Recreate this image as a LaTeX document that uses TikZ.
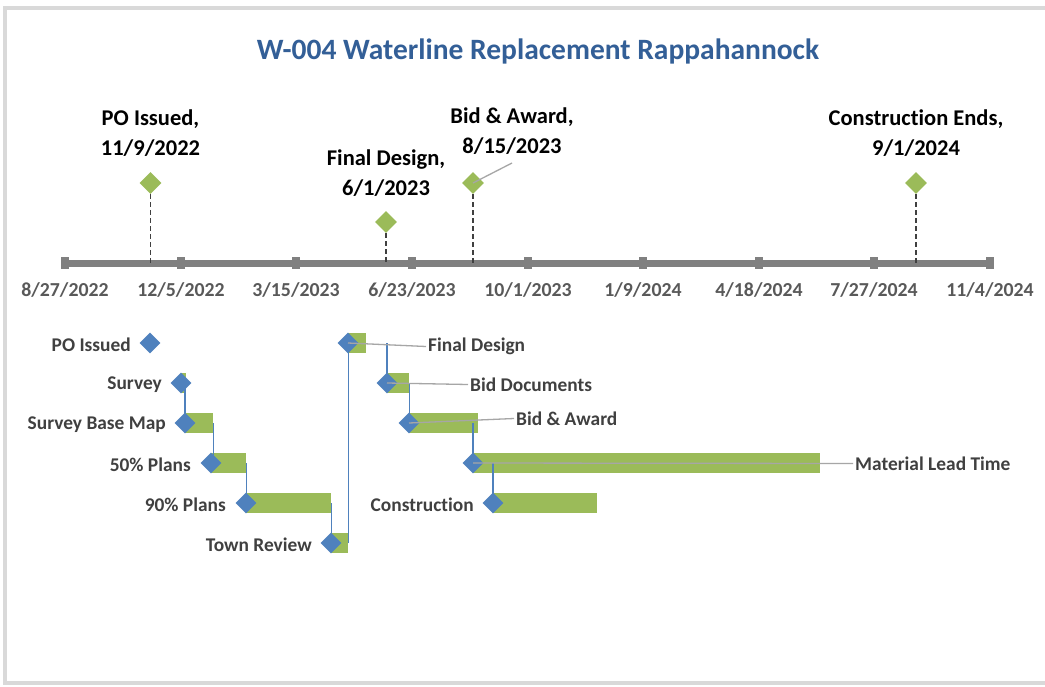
\documentclass[tikz,border=0pt]{standalone}
\usepackage{fontspec}
\setmainfont[Ligatures={NoCommon}]{Carlito}
\usetikzlibrary{shapes.geometric}
\definecolor{barg}{HTML}{9BBB59}
\definecolor{dblue}{HTML}{4F81BD}
\definecolor{axisg}{HTML}{808080}
\definecolor{frameg}{HTML}{D9D9D9}
\definecolor{lead}{HTML}{A6A6A6}
\definecolor{txtg}{HTML}{404040}
\definecolor{dateg}{HTML}{595959}
\definecolor{titleb}{HTML}{335F97}
\begin{document}
\begin{tikzpicture}[x=1pt,y=-1pt,
  bar/.style={fill=barg, draw=none, minimum height=20pt, inner sep=0pt, anchor=west},
  task/.style={diamond, fill=dblue, draw=none, inner sep=0pt, minimum width=21pt, minimum height=21pt},
  mile/.style={diamond, fill=barg, draw=none, inner sep=0pt, minimum width=22pt, minimum height=22pt},
  tick/.style={fill=axisg, draw=none, inner sep=0pt, minimum width=8pt, minimum height=12pt},
  conn/.style={draw=dblue, line width=1.3pt},
  leader/.style={draw=lead, line width=1.3pt},
  drop/.style={draw=txtg, line width=1.5pt, dash pattern=on 5pt off 3pt},
  tlabel/.style={text=txtg, font=\fontsize{19.4}{22}\selectfont\bfseries, inner sep=2pt, yshift=-1.5pt},
  dlabel/.style={text=dateg, font=\fontsize{19.8}{22}\selectfont\bfseries, inner sep=0pt},
  mlabel/.style={text=black, font=\fontsize{22.5}{30}\selectfont\bfseries, align=center, inner sep=0pt}
]
\useasboundingbox (0,0) rectangle (1045,686);
\fill[white] (0,0) rectangle (1045,686);
\draw[frameg, line width=4pt] (5,8) rectangle (1050,683);

% title
\node[text=titleb, font=\fontsize{29.5}{34}\selectfont\bfseries] (title) at (538,51) {W-004 Waterline Replacement Rappahannock};

% axis
\coordinate (axL) at (65,263);
\coordinate (axR) at (990,263);
\draw[axisg, line width=7pt] (axL) -- (axR);
\foreach \x/\d [count=\i] in {65/8\slash 27\slash 2022,181/12\slash 5\slash 2022,296/3\slash 15\slash 2023,412/6\slash 23\slash 2023,528/10\slash 1\slash 2023,643/1\slash 9\slash 2024,759/4\slash 18\slash 2024,874/7\slash 27\slash 2024,990/11\slash 4\slash 2024}{
  \node[tick] (t\i) at (\x,263) {};
  \node[dlabel] (dl\i) at (\x,290) {\d};
}

% milestones
\node[mile] (m1) at (150.5,183) {};
\node[mile] (m2) at (386,222) {};
\node[mile] (m3) at (473,183) {};
\node[mile] (m4) at (916,183) {};
\draw[drop] (m1.south) -- (m1.south |- t1.center);
\draw[drop] (m2.south) -- (m2.south |- t1.center);
\draw[drop] (m3.south) -- (m3.south |- t1.center);
\draw[drop] (m4.south) -- (m4.south |- t1.center);
\node[mlabel] (ml1) at (150.5,133) {PO Issued,\\11/9/2022};
\node[mlabel] (ml2) at (386,173) {Final Design,\\6/1/2023};
\node[mlabel] (ml3) at (512,131) {Bid \& Award,\\8/15/2023};
\node[mlabel] (ml4) at (916,133) {Construction Ends,\\9/1/2024};
\coordinate (ml3b) at (512,163);
\draw[leader] (m3.center) -- (ml3b);

% gantt bars
\node[bar, minimum width=5pt] (b2) at (181,383) {};
\node[bar, minimum width=28pt] (b3) at (185,423) {};
\node[bar, minimum width=35pt] (b4) at (211,463) {};
\node[bar, minimum width=85pt] (b5) at (246,503) {};
\node[bar, minimum width=17pt] (b6) at (331,543) {};
\node[bar, minimum width=18pt] (b7) at (348,343) {};
\node[bar, minimum width=22pt] (b8) at (387,383) {};
\node[bar, minimum width=69pt] (b9) at (409,423) {};
\node[bar, minimum width=347pt] (b10) at (473,463) {};
\node[bar, minimum width=104pt] (b11) at (493,503) {};

% task diamonds
\node[task] (d1) at (150,343) {};
\node[task] (d2) at (181,383) {};
\node[task] (d3) at (185,423) {};
\node[task] (d4) at (211,463) {};
\node[task] (d5) at (246,503) {};
\node[task] (d6) at (331,543) {};
\node[task] (d7) at (348,343) {};
\node[task] (d8) at (387,383) {};
\node[task] (d9) at (409,423) {};
\node[task] (d10) at (473,463) {};
\node[task] (d11) at (493,503) {};

% blue connectors
\draw[conn] ([xshift=-1.5pt]b2.east) -- ([xshift=-1.5pt]b2.east |- d3.center);
\draw[conn] (b3.east) -- (b3.east |- d4.center);
\draw[conn] (b4.east) -- (b4.east |- d5.center);
\draw[conn] (b5.east) -- (b5.east |- d6.center);
\draw[conn] (b6.east) -- (b6.east |- d7.center);
\draw[conn] (d8.center |- d7.center) -- (d8.center);
\draw[conn] (b8.east) -- (b8.east |- d9.center);
\draw[conn] (d10.center |- d9.center) -- (d10.center);
\draw[conn] (d11.center |- d10.center) -- (d11.center);

% labels
\node[tlabel, anchor=east] (l1) at (133,343) {PO Issued};
\node[tlabel, anchor=east] (l2) at (164,383) {Survey};
\node[tlabel, anchor=east] (l3) at (168,423) {Survey Base Map};
\node[tlabel, anchor=east] (l4) at (193,463) {50\% Plans};
\node[tlabel, anchor=east] (l5) at (228,503) {90\% Plans};
\node[tlabel, anchor=east] (l6) at (314,543) {Town Review};
\node[tlabel, anchor=east] (l11) at (476,503) {Construction};
\node[tlabel, anchor=west] (l7) at (426,345) {Final Design};
\node[tlabel, anchor=west] (l8) at (468,383) {Bid Documents};
\node[tlabel, anchor=west] (l9) at (514,417) {Bid \& Award};
\node[tlabel, anchor=west] (l10) at (853,462) {Material Lead Time};

% gray leaders
\draw[leader] (d7.center) -- (l7.west);
\draw[leader] (d8.center) -- (l8.west);
\draw[leader] (d9.center) -- (l9.west);
\draw[leader] (d10.center) -- (l10.west);
\end{tikzpicture}
\end{document}
